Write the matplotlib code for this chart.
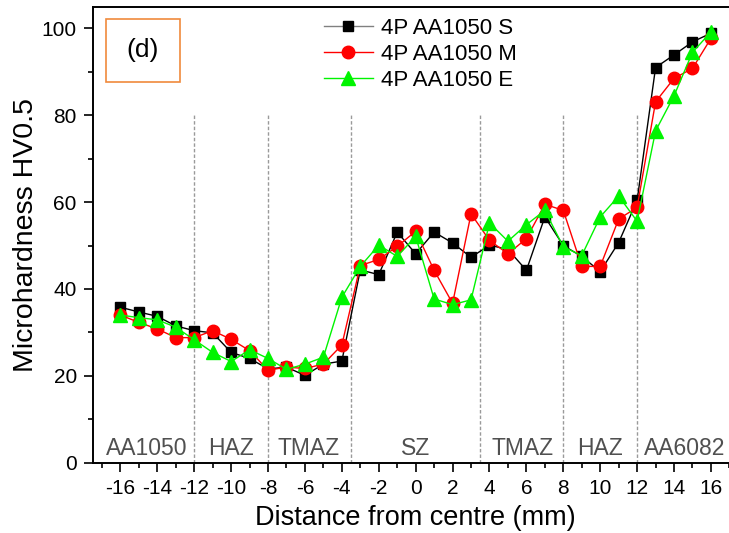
import matplotlib
matplotlib.use("Agg")
import matplotlib.pyplot as plt
from matplotlib.patches import Rectangle
from matplotlib.ticker import MultipleLocator

plt.rcParams['font.family'] = ['Liberation Sans', 'DejaVu Sans']
plt.rcParams['axes.unicode_minus'] = False

# Distance from weld centre (mm)
distance = list(range(-16, 17))

# Microhardness profiles (HV0.5)
hv_s = [35.8, 34.7, 33.7, 31.5, 30.4, 29.9, 25.4, 24.0, 21.6, 22.0, 20.1, 22.7, 23.4,
        44.4, 43.3, 53.1, 48.1, 53.1, 50.6, 47.3, 50.1, 49.1, 44.3, 56.6, 50.0,
        47.5, 44.0, 50.7, 60.4, 91.0, 93.9, 96.9, 98.9]
hv_m = [34.0, 32.3, 30.8, 28.8, 28.8, 30.4, 28.4, 25.8, 21.3, 22.0, 21.7, 22.7, 27.1,
        45.4, 46.8, 49.8, 53.3, 44.3, 36.7, 57.3, 51.2, 48.1, 51.6, 59.5, 58.1,
        45.2, 45.2, 56.1, 58.8, 83.1, 88.5, 90.8, 97.7]
hv_e = [34.0, 33.4, 32.9, 31.2, 28.3, 25.4, 23.3, 26.0, 24.0, 21.5, 22.7, 24.3, 38.1,
        45.2, 50.1, 47.5, 52.1, 37.7, 36.4, 37.5, 55.2, 51.0, 54.8, 58.1, 49.7,
        47.7, 56.6, 61.4, 55.6, 76.4, 84.5, 94.5, 99.2]

series_labels = ['4P AA1050 S', '4P AA1050 M', '4P AA1050 E']

# Zone boundaries and zone names along the weld
zone_bounds = [-12, -8, -3.5, 3.5, 8, 12]
zone_names = ['AA1050', 'HAZ', 'TMAZ', 'SZ', 'TMAZ', 'HAZ', 'AA6082']
zone_centres = [-14.6, -10, -5.8, 0, 5.8, 10, 14.6]

fig = plt.figure(figsize=(7.29, 5.33), dpi=100)
ax = fig.add_axes([0.1272, 0.1319, 0.886, 0.8555])

for xb in zone_bounds:
    ax.plot([xb, xb], [0, 80], color='#9a9a9a', lw=1.0, ls=(0, (2.5, 1.5)), zorder=1)

green = '#00f400'
ax.plot(distance, hv_s, color='black', lw=1.0, marker='s', ms=7.5,
        mfc='black', mec='black', label=series_labels[0], zorder=3)
ax.plot(distance, hv_m, color='red', lw=1.0, marker='o', ms=9,
        mfc='red', mec='red', label=series_labels[1], zorder=4)
ax.plot(distance, hv_e, color=green, lw=1.0, marker='^', ms=9.5,
        mfc=green, mec=green, label=series_labels[2], zorder=5)

for name, xc in zip(zone_names, zone_centres):
    ax.text(xc, 3.2, name, ha='center', va='center', fontsize=16.5,
            color='#505050')

ax.set_xlim(-17.5, 17.5)
ax.set_ylim(0, 105)
ax.xaxis.set_major_locator(MultipleLocator(2))
ax.xaxis.set_minor_locator(MultipleLocator(1))
ax.yaxis.set_major_locator(MultipleLocator(20))
ax.yaxis.set_minor_locator(MultipleLocator(10))
ax.tick_params(which='major', direction='out', length=6.5, width=1.2,
               labelsize=15, pad=5)
ax.tick_params(which='minor', direction='out', length=3.5, width=1.2)
for side in ['left', 'bottom', 'top', 'right']:
    ax.spines[side].set_linewidth(1.4)

ax.set_xlabel('Distance from centre (mm)', fontsize=19.5, labelpad=5)
ax.set_ylabel('Microhardness HV0.5', fontsize=20.5, labelpad=2)

# Panel tag box
ax.add_patch(Rectangle((106, 533 - 82), 74, 63, transform=None,
                       fill=False, edgecolor='#F08A3C', lw=1.2, zorder=6))
fig.text(143 / 729, 1 - 50 / 533, '(d)', ha='center', va='center', fontsize=19)

leg = ax.legend(loc='upper left', bbox_to_anchor=(324 / 729, 1 - 18 / 533),
                bbox_transform=fig.transFigure, frameon=False, fontsize=16,
                handlelength=2.2, handletextpad=0.35, labelspacing=0.22,
                borderpad=0, borderaxespad=0)
leg.get_lines()[0].set_color('#808080')
leg.get_lines()[0].set_markerfacecolor('black')
leg.get_lines()[0].set_markeredgecolor('black')

fig.savefig('out.png', dpi=100)
